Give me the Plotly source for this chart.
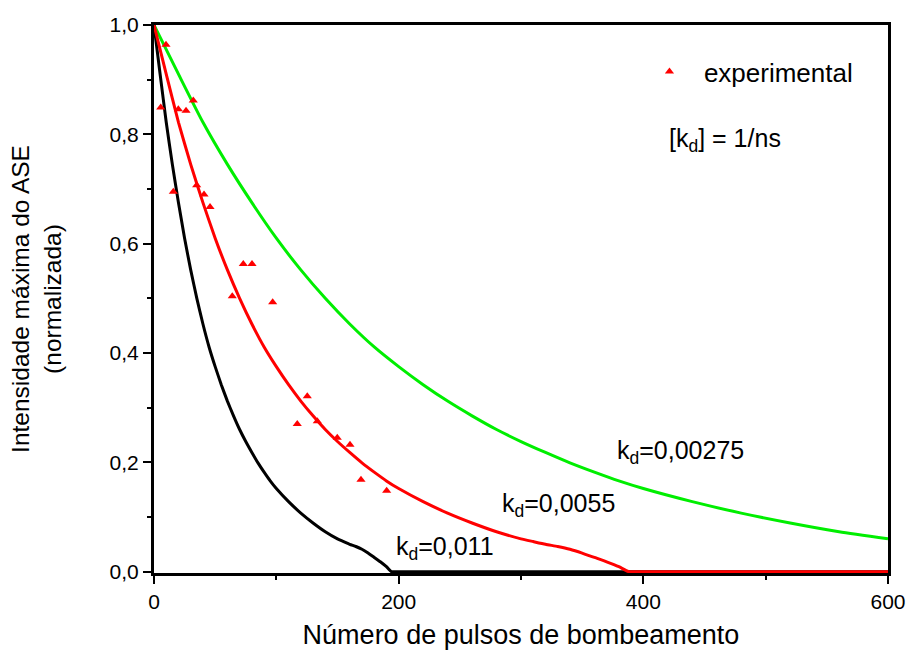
import plotly.graph_objects as go

# ---- data ----
# k_d = 0,0055 (red model curve)
red_x = [0, 10, 20, 30, 40, 50, 60, 70, 80, 90, 100, 110, 120, 130, 140, 150, 160, 170, 180, 190, 200,
         220, 240, 260, 280, 300, 310, 320, 330, 340, 350, 360, 370, 380, 388, 396, 420, 500, 600]
red_y = [1.0, 0.91, 0.822, 0.745, 0.675, 0.61, 0.552, 0.500, 0.453, 0.411, 0.375, 0.342, 0.312, 0.285,
         0.26, 0.238, 0.218, 0.199, 0.182, 0.166, 0.152, 0.128, 0.107, 0.089, 0.073, 0.060, 0.055,
         0.050, 0.046, 0.041, 0.034, 0.026, 0.018, 0.009, 0.0, 0.0, 0.0, 0.0, 0.0]

# k_d = 0,00275 (green model curve)
green_x = [0, 20, 40, 60, 80, 100, 120, 140, 160, 180, 200, 220, 240, 260, 280, 300, 320, 340, 360,
           380, 400, 440, 480, 520, 560, 600]
green_y = [1.0, 0.91, 0.822, 0.745, 0.675, 0.61, 0.552, 0.500, 0.453, 0.411, 0.375, 0.342, 0.312,
           0.285, 0.26, 0.238, 0.218, 0.199, 0.182, 0.166, 0.152, 0.128, 0.107, 0.089, 0.073, 0.060]

# k_d = 0,011 (black model curve)
black_x = [0, 5, 10, 15, 20, 25, 30, 35, 40, 45, 50, 55, 60, 65, 70, 75, 80, 85, 90, 95, 100,
           110, 120, 130, 140, 150, 155, 160, 165, 170, 175, 180, 185, 190, 194, 200, 220,
           300, 400, 500, 600]
black_y = [1.0, 0.91, 0.822, 0.745, 0.675, 0.61, 0.552, 0.500, 0.453, 0.411, 0.375, 0.342, 0.312,
           0.285, 0.26, 0.238, 0.218, 0.199, 0.182, 0.166, 0.152, 0.128, 0.107, 0.089, 0.073, 0.060,
           0.055, 0.050, 0.046, 0.041, 0.034, 0.026, 0.018, 0.009, 0.0, 0.0, 0.0,
           0.0, 0.0, 0.0, 0.0]

# experimental points
exp_x = [5.5, 9.8, 15.8, 19.9, 26.2, 32.1, 34.9, 40.9, 45.8, 64.0, 73.0, 80.1, 97.0,
         117.1, 125.3, 133.5, 149.8, 160.2, 169.2, 190.2]
exp_y = [0.849, 0.964, 0.695, 0.846, 0.843, 0.862, 0.707, 0.690, 0.667, 0.504, 0.563, 0.563, 0.493,
         0.270, 0.321, 0.275, 0.245, 0.232, 0.168, 0.148]

x_title = "Número de pulsos de bombeamento"
y_title = "Intensidade máxima do ASE<br>(normalizada)"

FONT = "Liberation Sans, Arial, sans-serif"

fig = go.Figure()
fig.add_trace(go.Scatter(x=green_x, y=green_y, mode="lines",
                         line=dict(color="#00ee00", width=3, shape="spline", smoothing=0.6),
                         showlegend=False))
fig.add_trace(go.Scatter(x=black_x, y=black_y, mode="lines",
                         line=dict(color="black", width=3, shape="spline", smoothing=0.5),
                         showlegend=False))
fig.add_trace(go.Scatter(x=red_x, y=red_y, mode="lines",
                         line=dict(color="#ff0000", width=3, shape="spline", smoothing=0.5),
                         showlegend=False))
fig.add_trace(go.Scatter(x=exp_x, y=exp_y, mode="markers", name="\u00a0\u00a0experimental",
                         marker=dict(symbol="triangle-up", size=8, color="#ff0000"),
                         cliponaxis=False))

ann_font = dict(family=FONT, size=25, color="black")
annots = [
    ("[k<sub>d</sub>] = 1/ns", 419.4, 0.79),
    ("k<sub>d</sub>=0,00275", 376.8, 0.218),
    ("k<sub>d</sub>=0,0055", 282.8, 0.121),
    ("k<sub>d</sub>=0,011", 196.0, 0.043),
]
for txt, ax, ay in annots:
    fig.add_annotation(x=ax, y=ay, xref="x", yref="y", text=txt, showarrow=False,
                       xanchor="left", yanchor="middle", font=ann_font)

axis_common = dict(
    showline=True, linecolor="black", linewidth=3, mirror=True,
    ticks="outside", ticklen=8, tickwidth=2, tickcolor="black",
    showgrid=False, zeroline=False, layer="below traces", automargin=False,
    tickfont=dict(family=FONT, size=21, color="black"),
)

fig.update_layout(
    width=911, height=650,
    margin=dict(l=154, r=23, t=25, b=77),
    plot_bgcolor="white", paper_bgcolor="white",
    separators=", ",
    font=dict(family=FONT, color="black"),
    showlegend=True,
    legend=dict(x=0.675, y=0.958, xanchor="left", yanchor="top",
                bgcolor="rgba(0,0,0,0)", font=dict(family=FONT, size=26, color="black"),
                itemwidth=30),
    xaxis=dict(range=[0, 600], tick0=0, dtick=200,
               minor=dict(ticks="outside", ticklen=4, tickwidth=2, tickcolor="black", dtick=100),
               title=dict(text=x_title, font=dict(family=FONT, size=27), standoff=14),
               **axis_common),
    yaxis=dict(range=[-0.0025, 1], tick0=0, dtick=0.2, tickformat=".1f",
               minor=dict(ticks="outside", ticklen=4, tickwidth=2, tickcolor="black", dtick=0.1),
               title=dict(text=y_title, font=dict(family=FONT, size=24.5), standoff=42),
               **axis_common),
)

fig.write_html("out.html")
